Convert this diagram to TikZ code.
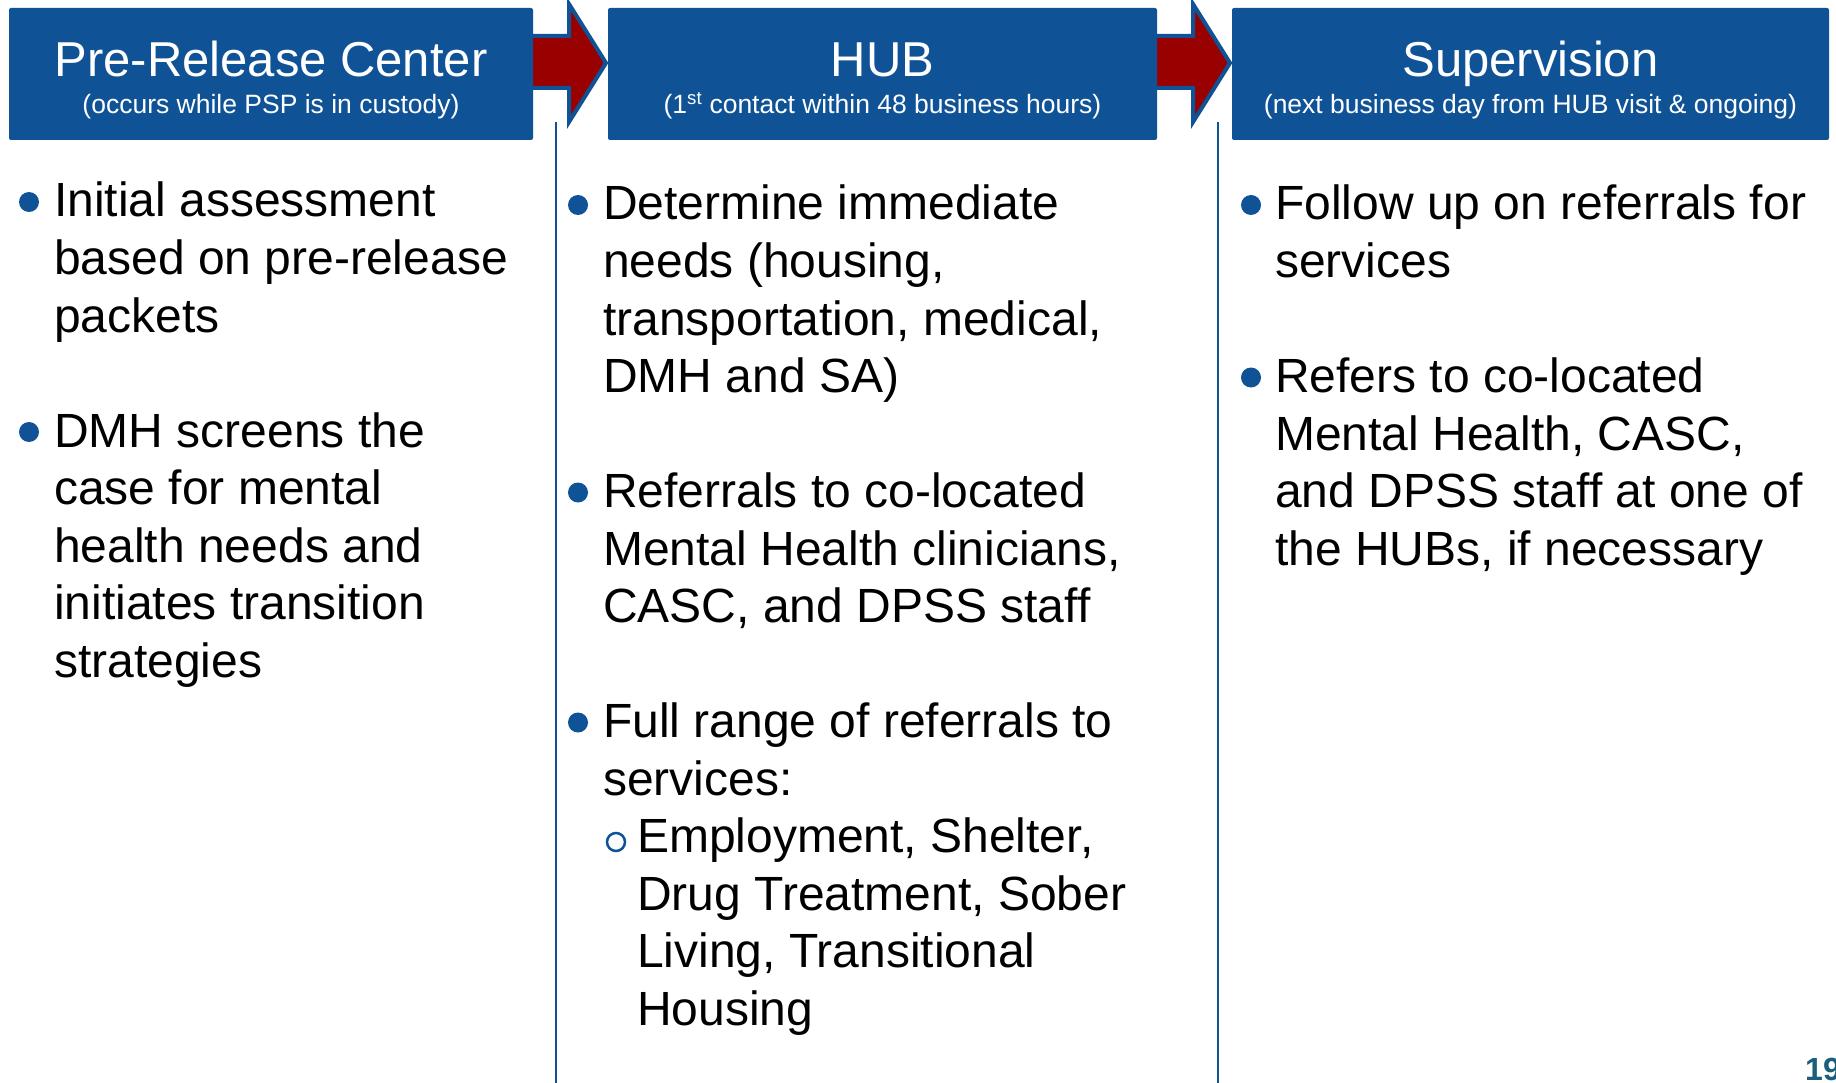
\documentclass[tikz,border=0pt]{standalone}
\usepackage{fontspec}
\setmainfont{Liberation Sans}
\definecolor{hdrblue}{RGB}{15,83,150}
\definecolor{arrred}{RGB}{153,0,0}
\definecolor{pgnum}{RGB}{27,94,126}
\tikzset{
  hdrbox/.style={fill=hdrblue, draw=none, rounded corners=2pt},
  hdrtitle/.style={text=white, inner sep=0pt, anchor=base, font=\fontsize{49}{58}\selectfont},
  hdrsub/.style={text=white, inner sep=0pt, anchor=base, font=\fontsize{26.5}{31}\selectfont},
  flowarrow/.style={fill=arrred, draw=hdrblue, line width=4pt, line join=miter},
  colline/.style={draw=hdrblue, line width=2.5pt},
  body/.style={text=black, inner sep=0pt, anchor=base west, font=\fontsize{48}{57.5}\selectfont},
  dotbullet/.style={circle, fill=hdrblue, draw=none, minimum size=20pt, inner sep=0pt},
  ringbullet/.style={circle, draw=hdrblue, line width=2.5pt, fill=none, minimum size=18pt, inner sep=0pt},
}
\begin{document}
\begin{tikzpicture}[x=1pt,y=-1pt]
\useasboundingbox (0,0) rectangle (1836,1083);
\fill[white] (0,0) rectangle (1836,1083);

% arrows (behind boxes)
\draw[flowarrow] (520,36) -- (569,36) -- (569,4) -- (606,63) -- (569,122) -- (569,88) -- (520,88) -- cycle;
\draw[flowarrow] (1145,36) -- (1193,36) -- (1193,4) -- (1230,63) -- (1193,122) -- (1193,88) -- (1145,88) -- cycle;

% header boxes
\node[hdrbox, minimum width=524pt, minimum height=132pt, inner sep=0pt] (h1) at (271,74) {};
\node[hdrbox, minimum width=549pt, minimum height=132pt, inner sep=0pt] (h2) at (882.5,74) {};
\node[hdrbox, minimum width=597pt, minimum height=132pt, inner sep=0pt] (h3) at (1530.5,74) {};

\node[hdrtitle] (t1) at (271,77) {Pre-Release Center};
\node[hdrsub] (s1) at (271,114) {(occurs while PSP is in custody)};
\node[hdrtitle] (t2) at (882.5,77) {HUB};
\node[hdrsub] (s2) at (882.5,114) {(1\textsuperscript{st} contact within 48 business hours)};
\node[hdrtitle] (t3) at (1530.5,77) {Supervision};
\node[hdrsub] (s3) at (1530.5,114) {(next business day from HUB visit \& ongoing)};

% column separators
\coordinate (v1top) at (556,122);
\coordinate (v1bot) at (556,1083);
\coordinate (v2top) at (1218,122);
\coordinate (v2bot) at (1218,1083);
\draw[colline] (v1top) -- (v1bot);
\draw[colline] (v2top) -- (v2bot);

% column 1
\node[dotbullet] (c1b1) at (29,202) {};
\foreach \t [count=\i from 0] in {{Initial assessment},{based on pre-release},{packets}}
  \node[body] (c1p1l\i) at (54,{217+\i*57.5}) {\t};
\node[dotbullet] (c1b2) at (29,432) {};
\foreach \t [count=\i from 0] in {{DMH screens the},{case for mental},{health needs and},{initiates transition},{strategies}}
  \node[body] (c1p2l\i) at (54,{447+\i*57.5}) {\t};

% column 2
\node[dotbullet] (c2b1) at (578,205) {};
\foreach \t [count=\i from 0] in {{Determine immediate},{needs (housing,},{transportation, medical,},{DMH and SA)}}
  \node[body] (c2p1l\i) at (603,{220+\i*57.5}) {\t};
\node[dotbullet] (c2b2) at (578,492.5) {};
\foreach \t [count=\i from 0] in {{Referrals to co-located},{Mental Health clinicians,},{CASC, and DPSS staff}}
  \node[body] (c2p2l\i) at (603,{507.5+\i*57.5}) {\t};
\node[dotbullet] (c2b3) at (578,722.5) {};
\foreach \t [count=\i from 0] in {{Full range of referrals to},{services:}}
  \node[body] (c2p3l\i) at (603,{737.5+\i*57.5}) {\t};
\node[ringbullet] (c2r1) at (616,842) {};
\foreach \t [count=\i from 0] in {{Employment, Shelter,},{Drug Treatment, Sober},{Living, Transitional},{Housing}}
  \node[body] (c2p4l\i) at (637,{852.5+\i*57.5}) {\t};

% column 3
\node[dotbullet] (c3b1) at (1251,205) {};
\foreach \t [count=\i from 0] in {{Follow up on referrals for},{services}}
  \node[body] (c3p1l\i) at (1275,{220+\i*57.5}) {\t};
\node[dotbullet] (c3b2) at (1251,377.5) {};
\foreach \t [count=\i from 0] in {{Refers to co-located},{Mental Health, CASC,},{and DPSS staff at one of},{the HUBs, if necessary}}
  \node[body] (c3p2l\i) at (1275,{392.5+\i*57.5}) {\t};

% page number
\node[inner sep=0pt, anchor=base west, text=pgnum, font=\fontsize{32}{38}\selectfont\bfseries] (pg) at (1805,1080) {19};
\end{tikzpicture}
\end{document}
